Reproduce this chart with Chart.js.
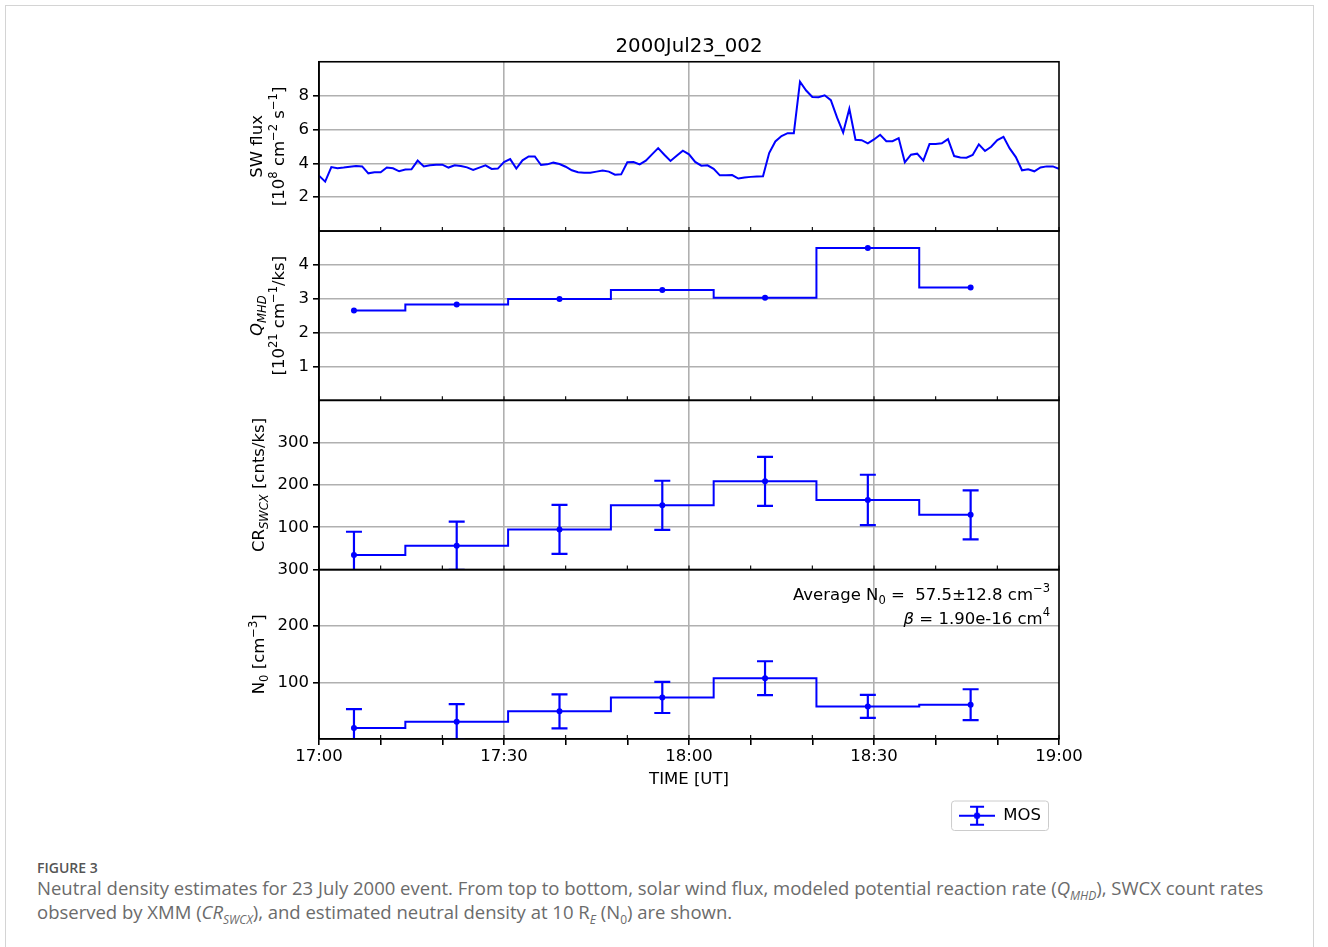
<!DOCTYPE html>
<html>
<head>
    <title>2000Jul23_002</title>
    <script src="https://cdn.jsdelivr.net/npm/chart.js"></script>
    <style>
        body { margin: 0; background: #fff; }
        #frame {
            position: absolute; left: 5px; top: 5px; width: 1307px; height: 980px;
            border: 1px solid #d4d4d4; border-bottom: none;
        }
        #chart { position: absolute; left: 0; top: 0; }
        #caption {
            position: absolute; left: 37px; top: 859px;
            font-family: "Open Sans", sans-serif; color: #6b6b6b;
        }
        #caption .fig { font-size: 14px; font-weight: 600; color: #555; line-height: 17px; }
        #caption .txt { font-size: 18.5px; line-height: 24px; white-space: nowrap; }
        #caption sub { font-size: 12px; line-height: 0; }
    </style>
</head>
<body>
    <div id="frame"></div>
    <canvas id="chart" width="1328" height="834"></canvas>
    <div id="caption">
        <div class="fig">FIGURE 3</div>
        <div class="txt">Neutral density estimates for 23 July 2000 event. From top to bottom, solar wind flux, modeled potential reaction rate (<i>Q<sub>MHD</sub></i>), SWCX count rates<br>observed by XMM (<i>CR<sub>SWCX</sub></i>), and estimated neutral density at 10 R<sub><i>E</i></sub> (N<sub>0</sub>) are shown.</div>
    </div>
    <script>
        // SW flux, one value a minute from 17:00 to 19:00 [1e8 cm^-2 s^-1]
        const swFlux = [
            3.27, 2.92, 3.78, 3.71, 3.75, 3.80, 3.84, 3.82, 3.41, 3.47,
            3.47, 3.75, 3.71, 3.53, 3.63, 3.65, 4.16, 3.82, 3.88, 3.92,
            3.92, 3.75, 3.88, 3.84, 3.76, 3.61, 3.75, 3.88, 3.67, 3.69,
            4.08, 4.25, 3.69, 4.18, 4.41, 4.41, 3.90, 3.94, 4.04, 3.96,
            3.80, 3.59, 3.47, 3.45, 3.45, 3.51, 3.57, 3.51, 3.33, 3.35,
            4.06, 4.08, 3.94, 4.16, 4.53, 4.90, 4.51, 4.14, 4.45, 4.75,
            4.53, 4.08, 3.86, 3.88, 3.67, 3.29, 3.29, 3.31, 3.10, 3.16,
            3.20, 3.22, 3.24, 4.61, 5.29, 5.61, 5.78, 5.78, 8.82, 8.30,
            7.92, 7.90, 8.02, 7.73, 6.71, 5.82, 7.22, 5.39, 5.37, 5.18,
            5.41, 5.69, 5.31, 5.31, 5.49, 4.06, 4.51, 4.57, 4.16, 5.14,
            5.14, 5.18, 5.43, 4.43, 4.35, 4.33, 4.49, 5.12, 4.73, 4.98,
            5.37, 5.57, 4.88, 4.37, 3.59, 3.65, 3.53, 3.76, 3.82, 3.82,
            3.67
        ];

        // bin centres, minutes after 17:00
        const binMinutes = [5.67, 22.33, 39.0, 55.67, 72.33, 89.0, 105.67];
        const qMHD = [2.65, 2.83, 2.99, 3.26, 3.03, 4.50, 3.33];
        const crSWCX = [34.5, 56.5, 95, 152, 208.6, 164.7, 129.4];
        const crErr = [55, 57, 58, 58, 58, 59.5, 58];
        const n0 = [19.4, 30.6, 48.8, 73.5, 107.6, 57.6, 60.6];
        const n0Err = [33.5, 31.2, 30, 27.6, 30, 20.3, 27.4];

        const swTicks = [2, 4, 6, 8];
        const qTicks = [1, 2, 3, 4];
        const crTicks = [100, 200, 300];
        const n0Ticks = [100, 200, 300];

        const BLUE = '#0000ff';
        const GRID = '#b0b0b0';
        const FONT = 'DejaVu Sans';
        const FS = 16.5;

        Chart.defaults.font.family = FONT;
        Chart.defaults.font.size = FS;
        Chart.defaults.color = '#000';

        const binPts = vals => vals.map((v, i) => ({ x: binMinutes[i], y: v }));

        // legend icon: errorbar with a dot
        const legendIcon = document.createElement('canvas');
        legendIcon.width = 36; legendIcon.height = 22;
        (function () {
            const c = legendIcon.getContext('2d');
            c.strokeStyle = BLUE; c.fillStyle = BLUE; c.lineWidth = 2.2;
            c.beginPath();
            c.moveTo(0, 11); c.lineTo(36, 11);
            c.moveTo(18, 2); c.lineTo(18, 20);
            c.moveTo(11, 2); c.lineTo(25, 2);
            c.moveTo(11, 20); c.lineTo(25, 20);
            c.stroke();
            c.beginPath(); c.arc(18, 11, 3.2, 0, Math.PI * 2); c.fill();
        })();

        // draw text made of runs: k = '', 'i', 'sub', 'sup', 'isub'
        function drawRich(ctx, parts, x, y, rot, align, size) {
            const small = size * 0.7;
            const fontOf = k => {
                const it = (k === 'i' || k === 'isub') ? 'italic ' : '';
                const sz = (k === 'sub' || k === 'sup' || k === 'isub') ? small : size;
                return it + sz + 'px "' + FONT + '"';
            };
            ctx.save();
            ctx.translate(x, y);
            ctx.rotate(rot);
            ctx.textBaseline = 'middle';
            ctx.textAlign = 'left';
            ctx.fillStyle = '#000';
            let w = 0;
            parts.forEach(p => { ctx.font = fontOf(p.k); w += ctx.measureText(p.t).width; });
            let cx = align === 'right' ? -w : -w / 2;
            parts.forEach(p => {
                ctx.font = fontOf(p.k);
                let dy = 0;
                if (p.k === 'sub' || p.k === 'isub') dy = size * 0.3;
                if (p.k === 'sup') dy = -size * 0.38;
                ctx.fillText(p.t, cx, dy);
                cx += ctx.measureText(p.t).width;
            });
            ctx.restore();
        }

        const panelDecor = {
            id: 'panelDecor',
            afterDatasetsDraw(chart) {
                const ctx = chart.ctx, a = chart.chartArea, xs = chart.scales.x;
                // error bars, clipped to their panel
                [['yCR', 2, crErr], ['yN', 3, n0Err]].forEach(([id, di, err]) => {
                    const ys = chart.scales[id];
                    ctx.save();
                    ctx.beginPath();
                    ctx.rect(a.left, ys.top, a.right - a.left, ys.bottom - ys.top);
                    ctx.clip();
                    ctx.strokeStyle = BLUE; ctx.lineWidth = 2.2;
                    chart.data.datasets[di].data.forEach((p, i) => {
                        const px = xs.getPixelForValue(p.x);
                        const hi = ys.getPixelForValue(p.y + err[i]);
                        const lo = ys.getPixelForValue(p.y - err[i]);
                        ctx.beginPath();
                        ctx.moveTo(px, hi); ctx.lineTo(px, lo);
                        ctx.moveTo(px - 8, hi); ctx.lineTo(px + 8, hi);
                        ctx.moveTo(px - 8, lo); ctx.lineTo(px + 8, lo);
                        ctx.stroke();
                    });
                    ctx.restore();
                });
                // panel frames and inner minor ticks
                ctx.save();
                ctx.strokeStyle = '#000'; ctx.lineWidth = 1.6;
                ['ySW', 'yQ', 'yCR', 'yN'].forEach(id => {
                    const ys = chart.scales[id];
                    ctx.strokeRect(a.left, ys.top, a.right - a.left, ys.bottom - ys.top);
                    ctx.beginPath();
                    xs.ticks.forEach(t => {
                        const px = xs.getPixelForValue(t.value);
                        ctx.moveTo(px, ys.bottom); ctx.lineTo(px, ys.bottom - 4);
                    });
                    ctx.lineWidth = 1.1;
                    ctx.stroke();
                    ctx.lineWidth = 1.6;
                });
                ctx.restore();
            },
            afterDraw(chart) {
                const ctx = chart.ctx, a = chart.chartArea, s = chart.scales;
                const mid = ys => (ys.top + ys.bottom) / 2;
                const R = -Math.PI / 2;
                drawRich(ctx, [{ t: 'SW flux' }], a.left - 61, mid(s.ySW), R, 'center', FS);
                drawRich(ctx, [{ t: '[10' }, { t: '8', k: 'sup' }, { t: ' cm' }, { t: '\u22122', k: 'sup' },
                    { t: ' s' }, { t: '\u22121', k: 'sup' }, { t: ']' }], a.left - 39, mid(s.ySW), R, 'center', FS);
                drawRich(ctx, [{ t: 'Q', k: 'i' }, { t: 'MHD', k: 'isub' }], a.left - 61, mid(s.yQ), R, 'center', FS);
                drawRich(ctx, [{ t: '[10' }, { t: '21', k: 'sup' }, { t: ' cm' }, { t: '\u22121', k: 'sup' },
                    { t: '/ks]' }], a.left - 39, mid(s.yQ), R, 'center', FS);
                drawRich(ctx, [{ t: 'CR' }, { t: 'SWCX', k: 'isub' }, { t: ' [cnts/ks]' }],
                    a.left - 59, mid(s.yCR), R, 'center', FS);
                drawRich(ctx, [{ t: 'N' }, { t: '0', k: 'sub' }, { t: ' [cm' }, { t: '\u22123', k: 'sup' }, { t: ']' }],
                    a.left - 59, mid(s.yN), R, 'center', FS);
                // annotation in the N0 panel
                drawRich(ctx, [{ t: 'Average N' }, { t: '0', k: 'sub' }, { t: ' =  57.5\u00b112.8 cm' },
                    { t: '\u22123', k: 'sup' }], a.right - 9, s.yN.top + 26, 0, 'right', FS);
                drawRich(ctx, [{ t: '\u03b2', k: 'i' }, { t: ' = 1.90e-16 cm' }, { t: '4', k: 'sup' }],
                    a.right - 9, s.yN.top + 50, 0, 'right', FS);
                // legend frame
                const hb = chart.legend.legendHitBoxes[0];
                if (hb) {
                    ctx.save();
                    ctx.strokeStyle = '#cccccc'; ctx.lineWidth = 1;
                    ctx.beginPath();
                    ctx.roundRect(hb.left - 7.5, hb.top - 6.5, hb.width + 15, hb.height + 13, 3);
                    ctx.stroke();
                    ctx.restore();
                }
            }
        };

        const yAxis = (min, max, ticks) => ({
            type: 'linear',
            position: 'left',
            stack: 'panels',
            stackWeight: 1,
            min: min,
            max: max,
            afterBuildTicks: s => { s.ticks = ticks.map(v => ({ value: v })); },
            afterFit: s => { s.width = 60; },
            grid: { color: GRID, lineWidth: 1.6, tickColor: '#000', tickLength: 6, drawTicks: true },
            border: { color: '#000', width: 1.6 },
            ticks: { padding: 4, color: '#000', font: { size: FS } }
        });

        const hhmm = v => (17 + Math.floor(v / 60)) + ':' + String(v % 60).padStart(2, '0');

        new Chart(document.getElementById('chart'), {
            type: 'line',
            data: {
                datasets: [
                    {
                        label: 'SW flux', yAxisID: 'ySW',
                        data: swFlux.map((v, i) => ({ x: i, y: v })),
                        borderColor: BLUE, borderWidth: 2, pointRadius: 0, tension: 0
                    },
                    {
                        label: 'Q_MHD', yAxisID: 'yQ', data: binPts(qMHD), stepped: 'middle',
                        borderColor: BLUE, backgroundColor: BLUE, borderWidth: 2,
                        pointRadius: 3, pointBorderWidth: 0
                    },
                    {
                        label: 'MOS', yAxisID: 'yCR', data: binPts(crSWCX), stepped: 'middle',
                        borderColor: BLUE, backgroundColor: BLUE, borderWidth: 2,
                        pointRadius: 3, pointBorderWidth: 0
                    },
                    {
                        label: 'N0', yAxisID: 'yN', data: binPts(n0), stepped: 'middle',
                        borderColor: BLUE, backgroundColor: BLUE, borderWidth: 2,
                        pointRadius: 3, pointBorderWidth: 0
                    }
                ]
            },
            options: {
                responsive: false,
                animation: false,
                devicePixelRatio: 1,
                layout: { padding: { left: 259, right: 269, top: 0, bottom: 0 } },
                scales: {
                    x: {
                        type: 'linear',
                        min: 0, max: 120,
                        ticks: {
                            stepSize: 10, autoSkip: false, maxRotation: 0, padding: 2,
                            color: '#000', font: { size: FS },
                            callback: v => (v % 30 === 0 ? hhmm(v) : '')
                        },
                        grid: {
                            color: c => (c.tick && c.tick.value % 30 === 0 && c.tick.value > 0 && c.tick.value < 120) ? GRID : 'rgba(0,0,0,0)',
                            lineWidth: 1.6, tickColor: '#000', tickLength: 6
                        },
                        border: { color: '#000', width: 1.6 },
                        title: { display: true, text: 'TIME [UT]', color: '#000', font: { size: FS }, padding: { top: 1, bottom: 0 } }
                    },
                    yN: yAxis(0, 300, n0Ticks),
                    yCR: yAxis(0, 400, crTicks),
                    yQ: yAxis(0, 5, qTicks),
                    ySW: yAxis(0, 10, swTicks)
                },
                plugins: {
                    title: {
                        display: true, fullSize: false, text: '2000Jul23_002', color: '#000',
                        font: { size: 19.8, weight: 'normal' }, padding: { top: 35, bottom: 3 }
                    },
                    legend: {
                        display: true, position: 'bottom', align: 'end', fullSize: false,
                        labels: {
                            usePointStyle: true, pointStyleWidth: 36, padding: 18,
                            color: '#000', font: { size: FS },
                            generateLabels: () => [{
                                text: 'MOS', pointStyle: legendIcon, fillStyle: BLUE,
                                strokeStyle: BLUE, lineWidth: 0, hidden: false, datasetIndex: 2
                            }]
                        }
                    },
                    tooltip: { enabled: false }
                }
            },
            plugins: [panelDecor]
        });
    </script>
</body>
</html>
